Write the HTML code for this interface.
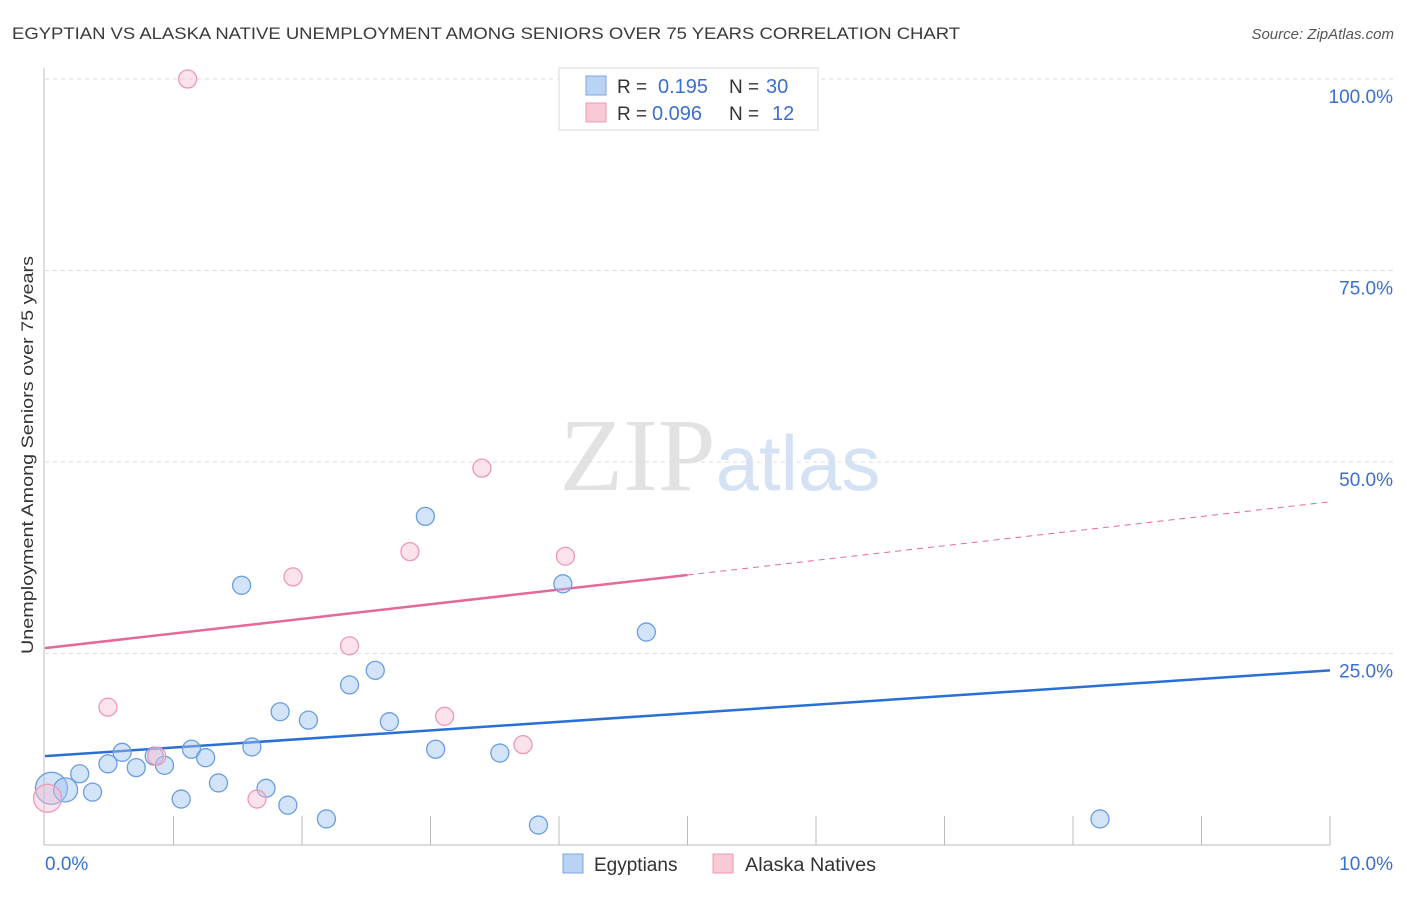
<!DOCTYPE html>
<html><head><meta charset="utf-8"><style>
body{margin:0;background:#fff;font-family:"Liberation Sans",sans-serif;}
svg text{font-family:"Liberation Sans",sans-serif;}
</style></head><body>
<svg id="chart" width="1406" height="892" xmlns="http://www.w3.org/2000/svg">
<text x="12" y="39" font-size="17" fill="#3a3a3a" textLength="948" lengthAdjust="spacingAndGlyphs">EGYPTIAN VS ALASKA NATIVE UNEMPLOYMENT AMONG SENIORS OVER 75 YEARS CORRELATION CHART</text>
<text x="1394" y="39" font-size="15" fill="#555" text-anchor="end" font-style="italic">Source: ZipAtlas.com</text>
<text x="720" y="490" font-size="104" text-anchor="middle"><tspan fill="#e2e2e2" font-family="Liberation Serif">ZIP</tspan><tspan fill="#d4e2f4" font-size="78">atlas</tspan></text>
<text transform="translate(33,455) rotate(-90)" font-size="17" fill="#333" text-anchor="middle" textLength="398" lengthAdjust="spacingAndGlyphs">Unemployment Among Seniors over 75 years</text>
<g id="grid"></g><g id="trends"></g><g id="pts"></g>
<g>
<rect x="559" y="68" width="259" height="62" fill="#fff" stroke="#d8d8d8"/>
<rect x="586" y="76" width="20" height="19" fill="#b9d3f5" stroke="#7ea6e0"/>
<rect x="586" y="103" width="20" height="19" fill="#f9c9d6" stroke="#eb9ab2"/>
<text x="617" y="93" font-size="19" fill="#333">R =</text><text x="658" y="93" font-size="20" fill="#3a6fd0">0.195</text>
<text x="729" y="93" font-size="19" fill="#333">N =</text><text x="766" y="93" font-size="20" fill="#3a6fd0">30</text>
<text x="617" y="120" font-size="19" fill="#333">R =</text><text x="652" y="120" font-size="20" fill="#3a6fd0">0.096</text>
<text x="729" y="120" font-size="19" fill="#333">N =</text><text x="772" y="120" font-size="20" fill="#3a6fd0">12</text>
</g>
<g>
<rect x="563" y="854" width="20" height="19" fill="#b9d3f5" stroke="#7ea6e0"/>
<text x="594" y="871" font-size="19" fill="#333">Egyptians</text>
<rect x="713" y="854" width="20" height="19" fill="#f9c9d6" stroke="#eb9ab2"/>
<text x="745" y="871" font-size="19" fill="#333" textLength="131" lengthAdjust="spacingAndGlyphs">Alaska Natives</text>
</g>
</svg>
<script>
const xTicks=[0,1,2,3,4,5,6,7,8,9,10];
const yTicks=[25,50,75,100];
const yTickLabels=["25.0%","50.0%","75.0%","100.0%"];
const blueX=[0.05,0.16,0.27,0.37,0.49,0.60,0.71,0.85,0.93,1.06,1.14,1.25,1.35,1.53,1.61,1.72,1.83,1.89,2.05,2.19,2.37,2.57,2.68,2.96,3.04,3.54,3.84,4.03,4.68,8.21];
const blueY=[7.4,7.2,9.3,6.9,10.6,12.1,10.1,11.6,10.4,6.0,12.5,11.4,8.1,33.9,12.8,7.4,17.4,5.2,16.3,3.4,20.9,22.8,16.1,42.9,12.5,12.0,2.6,34.1,27.8,3.4];
const pinkX=[0.02,0.49,0.87,1.11,1.65,1.93,2.37,2.84,3.11,3.40,3.72,4.05];
const pinkY=[6.1,18.0,11.6,100,6.0,35.0,26.0,38.3,16.8,49.2,13.1,37.7];
const blueTrend=[11.6,22.8];
const pinkTrend=[25.7,44.8];
const NS="http://www.w3.org/2000/svg";
const X0=45,X1=1330,Y0=845,Y100=79;
const sx=v=>X0+(X1-X0)*v/10, sy=v=>Y0-(Y0-Y100)*v/100;
function mk(t,a,p){const e=document.createElementNS(NS,t);for(const k in a)e.setAttribute(k,a[k]);document.getElementById(p).appendChild(e);return e;}
const g='grid';
let ax=mk('line',{x1:44,y1:68,x2:44,y2:Y0,stroke:'#bbb'},g);


let bx=mk('line',{x1:44,y1:Y0,x2:X1,y2:Y0,stroke:'#bbb'},g);


yTicks.forEach((v,i)=>{
 const l=mk('line',{x1:X0,y1:sy(v),x2:1394,y2:sy(v),stroke:'#ddd','stroke-dasharray':'4,4'},g);
 
 
 const t=mk('text',{x:1393,y:sy(v)+24,'font-size':19,fill:'#3a6fd0','text-anchor':'end'},g);t.textContent=yTickLabels[i];
 
 
});
xTicks.forEach(v=>{if(v===0)return;
 const l=mk('line',{x1:sx(v),y1:816,x2:sx(v),y2:Y0,stroke:'#bbb'},g);
 
 
});
let t0=mk('text',{x:45,y:870,'font-size':19,fill:'#3a6fd0'},g);t0.textContent='0.0%';


let t1=mk('text',{x:1393,y:870,'font-size':19,fill:'#3a6fd0','text-anchor':'end'},g);t1.textContent='10.0%';


const pSolidEnd=5;
const pAt=x=>pinkTrend[0]+(pinkTrend[1]-pinkTrend[0])*x/10;
let pl=mk('line',{x1:sx(0),y1:sy(pinkTrend[0]),x2:sx(pSolidEnd),y2:sy(pAt(pSolidEnd)),stroke:'#e5689a','stroke-width':2.5},'trends');


let pd=mk('line',{x1:sx(pSolidEnd),y1:sy(pAt(pSolidEnd)),x2:sx(10),y2:sy(pinkTrend[1]),stroke:'#e5689a','stroke-width':1,'stroke-dasharray':'6,5'},'trends');


let bl=mk('line',{x1:sx(0),y1:sy(blueTrend[0]),x2:sx(10),y2:sy(blueTrend[1]),stroke:'#2a6fd6','stroke-width':2.5},'trends');


blueX.forEach((x,i)=>{
 const r=i===0?16:(i===1?12:9);
 const c=mk('circle',{cx:sx(x),cy:sy(blueY[i]),r:r,fill:'rgba(160,196,240,0.45)',stroke:'#6a9ee0','stroke-width':1.3},'pts');
 
 
});
pinkX.forEach((x,i)=>{
 const r=i===0?14:9;
 const c=mk('circle',{cx:sx(x),cy:sy(pinkY[i]),r:r,fill:'rgba(248,190,208,0.45)',stroke:'#eb9ab2','stroke-width':1.3},'pts');
 
 
});
</script>
</body></html>
